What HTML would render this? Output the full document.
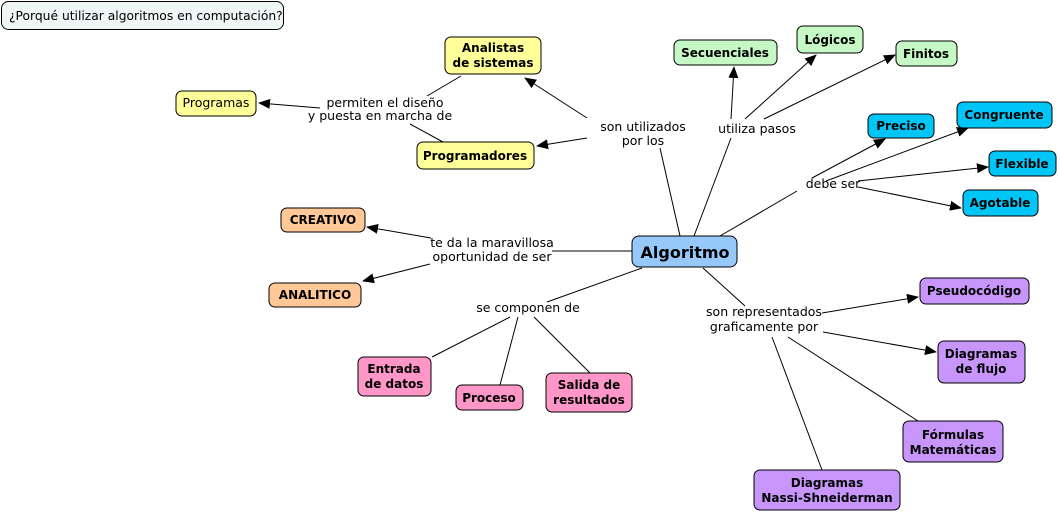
<!DOCTYPE html>
<html><head><meta charset="utf-8"><style>
html,body{margin:0;padding:0;background:#fff;}
svg{display:block;font-family:"DejaVu Sans","Liberation Sans",sans-serif;}
.n{stroke:#000;stroke-width:1;}
.b{font-weight:bold;font-size:12px;text-anchor:middle;}
.l{font-size:12.5px;text-anchor:middle;}
line{stroke:#000;stroke-width:1;}
</style></head><body>
<svg width="1060" height="513" viewBox="0 0 1060 513" xmlns="http://www.w3.org/2000/svg">
<defs><marker id="a" markerWidth="12" markerHeight="10" refX="11" refY="5" orient="auto" markerUnits="userSpaceOnUse"><path d="M0,0 L12,5 L0,10 z" fill="#000"/></marker></defs>
<g>
<line x1="680" y1="236" x2="660" y2="148"/>
<line x1="587" y1="118" x2="525" y2="78" marker-end="url(#a)"/>
<line x1="587" y1="138" x2="537" y2="146" marker-end="url(#a)"/>
<line x1="461" y1="76" x2="427" y2="96"/>
<line x1="320" y1="108" x2="259" y2="103" marker-end="url(#a)"/>
<line x1="443" y1="142" x2="410" y2="124"/>
<line x1="694" y1="236" x2="731" y2="138"/>
<line x1="731" y1="119" x2="734" y2="67" marker-end="url(#a)"/>
<line x1="745" y1="119" x2="816" y2="55" marker-end="url(#a)"/>
<line x1="764" y1="119" x2="895" y2="55" marker-end="url(#a)"/>
<line x1="720" y1="236" x2="797" y2="191"/>
<line x1="812" y1="178" x2="885" y2="139" marker-end="url(#a)"/>
<line x1="826" y1="181" x2="968" y2="128" marker-end="url(#a)"/>
<line x1="858" y1="181" x2="988" y2="167" marker-end="url(#a)"/>
<line x1="858" y1="187" x2="961" y2="208" marker-end="url(#a)"/>
<line x1="632" y1="251" x2="552" y2="251"/>
<line x1="431" y1="238" x2="367" y2="227" marker-end="url(#a)"/>
<line x1="430" y1="264" x2="363" y2="281" marker-end="url(#a)"/>
<line x1="642" y1="268" x2="547" y2="302"/>
<line x1="510" y1="317" x2="432" y2="357"/>
<line x1="518" y1="317" x2="500" y2="385"/>
<line x1="534" y1="317" x2="590" y2="373"/>
<line x1="703" y1="268" x2="745" y2="306"/>
<line x1="822" y1="313" x2="918" y2="297" marker-end="url(#a)"/>
<line x1="823" y1="332" x2="936" y2="352" marker-end="url(#a)"/>
<line x1="788" y1="337" x2="918" y2="421"/>
<line x1="772" y1="337" x2="822" y2="470"/>
</g>
<rect class="n" x="1.5" y="1.5" width="282" height="28" rx="7" fill="#eef6f6"/>
<text x="9" y="20" font-size="12.3">¿Porqué utilizar algoritmos en computación?</text>

<g>
<rect class="n" x="445" y="37" width="96" height="37" rx="6" fill="#ffff99"/>
<text class="b" x="493" y="52">Analistas</text><text class="b" x="493" y="67">de sistemas</text>
<rect class="n" x="176" y="91" width="80" height="25" rx="6" fill="#ffff99"/>
<text class="l" x="216" y="107" font-size="12">Programas</text>
<rect class="n" x="417" y="142" width="117" height="27" rx="6" fill="#ffff99"/>
<text class="b" x="475" y="160">Programadores</text>

<rect class="n" x="674" y="40" width="103" height="25" rx="6" fill="#c6f8c6"/>
<text class="b" x="725" y="57">Secuenciales</text>
<rect class="n" x="797" y="26" width="66" height="27" rx="6" fill="#c6f8c6"/>
<text class="b" x="830" y="44">Lógicos</text>
<rect class="n" x="896" y="41" width="61" height="25" rx="6" fill="#c6f8c6"/>
<text class="b" x="926" y="58">Finitos</text>

<rect class="n" x="868" y="114" width="66" height="24" rx="6" fill="#00c6f8"/>
<text class="b" x="901" y="130">Preciso</text>
<rect class="n" x="957" y="102" width="95" height="26" rx="6" fill="#00c6f8"/>
<text class="b" x="1004" y="119">Congruente</text>
<rect class="n" x="989" y="151" width="67" height="25" rx="6" fill="#00c6f8"/>
<text class="b" x="1022" y="168">Flexible</text>
<rect class="n" x="963" y="190" width="75" height="26" rx="6" fill="#00c6f8"/>
<text class="b" x="1000" y="207">Agotable</text>

<rect class="n" x="281" y="208" width="84" height="24" rx="6" fill="#ffc896"/>
<text class="b" x="323" y="224">CREATIVO</text>
<rect class="n" x="269" y="283" width="92" height="24" rx="6" fill="#ffc896"/>
<text class="b" x="315" y="299">ANALITICO</text>

<rect class="n" x="632" y="236" width="105" height="31" rx="7" fill="#96c8fa"/>
<text x="685" y="258" font-size="16" font-weight="bold" text-anchor="middle">Algoritmo</text>

<rect class="n" x="920" y="278" width="109" height="26" rx="6" fill="#c896fa"/>
<text class="b" x="974" y="295">Pseudocódigo</text>
<rect class="n" x="938" y="341" width="87" height="42" rx="6" fill="#c896fa"/>
<text class="b" x="981" y="358">Diagramas</text><text class="b" x="981" y="373">de flujo</text>
<rect class="n" x="903" y="421" width="100" height="41" rx="6" fill="#c896fa"/>
<text class="b" x="953" y="439">Fórmulas</text><text class="b" x="953" y="454">Matemáticas</text>
<rect class="n" x="754" y="470" width="146" height="40" rx="6" fill="#c896fa"/>
<text class="b" x="827" y="487">Diagramas</text><text class="b" x="827" y="502">Nassi-Shneiderman</text>

<rect class="n" x="358" y="357" width="73" height="39" rx="6" fill="#ff96c8"/>
<text class="b" x="394" y="373">Entrada</text><text class="b" x="394" y="388">de datos</text>
<rect class="n" x="456" y="385" width="67" height="25" rx="6" fill="#ff96c8"/>
<text class="b" x="489" y="402">Proceso</text>
<rect class="n" x="546" y="373" width="86" height="39" rx="6" fill="#ff96c8"/>
<text class="b" x="589" y="389">Salida de</text><text class="b" x="589" y="404">resultados</text>
</g>

<g>
<text class="l" x="385" y="107">permiten el diseño</text>
<text class="l" x="380" y="120">y puesta en marcha de</text>
<text class="l" x="643" y="131">son utilizados</text>
<text class="l" x="643" y="145">por los</text>
<text class="l" x="757" y="133">utiliza pasos</text>
<text class="l" x="833" y="188">debe ser</text>
<text class="l" x="492" y="247">te da la maravillosa</text>
<text class="l" x="492" y="261">oportunidad de ser</text>
<text class="l" x="528" y="312">se componen de</text>
<text class="l" x="764" y="316">son representados</text>
<text class="l" x="764" y="331">graficamente por</text>
</g>
</svg>
</body></html>
